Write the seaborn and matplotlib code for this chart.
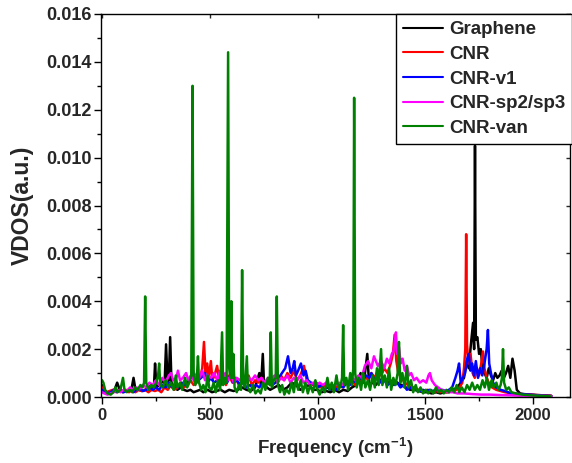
import matplotlib
matplotlib.use("Agg")
import matplotlib.pyplot as plt
from matplotlib.ticker import MultipleLocator
import seaborn as sns
import pandas as pd

# Values in units of 1e-4 (a.u.): (frequency cm^-1, VDOS)
graphene = [(0, 5), (8, 3), (18, 2), (30, 1.5), (45, 2), (58, 3), (70, 6), (82, 3), (95, 2),
            (110, 2.5), (125, 3), (138, 4), (146, 8), (155, 3), (170, 3), (185, 2.5), (200, 3),
            (215, 4), (230, 5), (240, 3), (246, 14), (252, 4), (265, 5), (280, 7), (290, 5),
            (297, 22), (304, 6), (310, 7), (316, 25), (322, 6), (335, 4), (350, 3), (365, 4),
            (380, 3), (395, 2.5), (410, 3), (425, 2), (440, 2.5), (455, 3), (470, 2), (490, 3),
            (510, 2), (530, 2.5), (550, 3), (570, 2), (590, 3), (610, 2.5), (630, 3), (650, 4),
            (670, 3), (690, 2.5), (710, 4), (730, 10), (738, 5), (746, 18), (752, 5), (765, 4),
            (780, 3), (800, 4), (820, 5), (840, 3), (860, 4), (880, 6), (900, 5), (920, 3),
            (940, 4), (960, 5), (980, 3), (1000, 3), (1020, 2), (1040, 2.5), (1060, 2), (1080, 3),
            (1100, 2), (1120, 3), (1140, 2.5), (1160, 4), (1180, 5), (1200, 10), (1215, 6),
            (1231, 18), (1240, 5), (1255, 6), (1270, 5), (1290, 7), (1310, 8), (1330, 6),
            (1350, 7), (1370, 6), (1390, 5), (1410, 4), (1430, 3), (1450, 3), (1470, 2.5),
            (1490, 2), (1510, 2), (1530, 1.5), (1550, 2), (1570, 1.5), (1590, 2), (1610, 2),
            (1630, 3), (1650, 4), (1665, 6), (1680, 8), (1692, 15), (1702, 12), (1712, 22),
            (1722, 31), (1727, 20), (1731, 105), (1735, 24), (1742, 25), (1750, 18), (1758, 20),
            (1766, 12), (1775, 10), (1785, 8), (1795, 12), (1805, 9), (1815, 7), (1825, 10),
            (1835, 8), (1845, 9), (1855, 11), (1865, 8), (1875, 10), (1885, 13), (1895, 8),
            (1905, 16), (1915, 11), (1925, 3), (1940, 1.5), (1960, 1.2), (1990, 1), (2020, 0.8),
            (2050, 0.7), (2085, 0.5)]

cnr = [(0, 4), (10, 3), (20, 2), (35, 2.5), (50, 3), (65, 2), (80, 3), (95, 2.5), (110, 3),
       (125, 2), (140, 3), (155, 2), (170, 3), (185, 2.5), (200, 3), (215, 2), (230, 3),
       (245, 2.5), (260, 3), (275, 2), (290, 4), (305, 3), (320, 5), (335, 3), (350, 4),
       (365, 6), (380, 4), (395, 5), (410, 7), (425, 5), (440, 6), (455, 8), (465, 12),
       (473, 23), (480, 10), (488, 14), (495, 8), (505, 15), (512, 7), (522, 9), (534, 13),
       (545, 6), (560, 8), (575, 5), (590, 9), (605, 6), (620, 8), (635, 5), (650, 7), (665, 6),
       (680, 9), (695, 5), (710, 7), (725, 6), (740, 8), (755, 5), (770, 7), (785, 6), (800, 8),
       (815, 6), (830, 9), (845, 7), (860, 10), (875, 8), (890, 11), (905, 7), (920, 9),
       (937, 13), (950, 7), (965, 6), (980, 5), (995, 6), (1010, 4), (1025, 5), (1040, 4),
       (1055, 5), (1070, 3), (1085, 4), (1100, 5), (1115, 4), (1130, 6), (1145, 5), (1160, 7),
       (1175, 5), (1190, 8), (1205, 6), (1220, 9), (1235, 7), (1250, 10), (1265, 8), (1280, 11),
       (1295, 9), (1310, 12), (1325, 10), (1340, 14), (1350, 18), (1358, 26), (1366, 15),
       (1375, 10), (1390, 8), (1405, 6), (1420, 5), (1435, 4), (1450, 4), (1465, 3), (1480, 3),
       (1495, 2.5), (1510, 3), (1525, 2.5), (1540, 2), (1555, 2.5), (1570, 2), (1585, 2.5),
       (1600, 2), (1615, 3), (1630, 2.5), (1645, 3), (1660, 4), (1672, 6), (1680, 12),
       (1686, 20), (1690, 68), (1694, 22), (1700, 14), (1710, 18), (1720, 10), (1730, 8),
       (1740, 12), (1750, 9), (1760, 14), (1768, 19), (1775, 12), (1785, 8), (1795, 6),
       (1810, 4), (1830, 3), (1850, 2.5), (1870, 2), (1900, 1.5), (1940, 1.2), (1980, 1),
       (2020, 0.8), (2085, 0.5)]

cnr_v1 = [(0, 3), (10, 2), (25, 1.5), (40, 2), (55, 3), (70, 2), (85, 3), (100, 2), (115, 2.5),
          (130, 3), (145, 2), (160, 3), (175, 3.5), (190, 2.5), (205, 3), (220, 4), (235, 3),
          (250, 4), (265, 3), (280, 5), (295, 4), (310, 6), (325, 4), (340, 5), (355, 4),
          (370, 6), (385, 5), (400, 7), (412, 8), (422, 11), (432, 6), (445, 7), (460, 8),
          (478, 10), (490, 6), (505, 8), (520, 6), (535, 7), (550, 5), (565, 8), (580, 6),
          (595, 9), (610, 6), (625, 7), (640, 5), (655, 6), (670, 4), (685, 5), (700, 4),
          (715, 5), (730, 4), (745, 6), (760, 5), (775, 7), (790, 5), (805, 6), (820, 8),
          (835, 10), (850, 12), (863, 17), (875, 10), (885, 12), (892, 15), (900, 9), (910, 11),
          (923, 14), (935, 9), (945, 11), (955, 7), (970, 6), (985, 5), (1000, 4), (1015, 5),
          (1030, 3), (1045, 4), (1060, 3), (1075, 4), (1090, 3), (1105, 5), (1120, 4),
          (1135, 6), (1150, 5), (1165, 7), (1180, 6), (1195, 8), (1210, 7), (1225, 9),
          (1240, 8), (1250, 10), (1265, 7), (1280, 8), (1295, 6), (1310, 7), (1325, 5),
          (1340, 6), (1355, 5), (1370, 6), (1385, 4), (1400, 5), (1415, 3), (1430, 4),
          (1445, 3), (1460, 3), (1475, 2.5), (1490, 3), (1505, 2.5), (1520, 3), (1535, 2.5),
          (1550, 3), (1565, 2.5), (1580, 3), (1595, 2.5), (1610, 3), (1625, 4), (1640, 8),
          (1650, 11), (1657, 14), (1665, 6), (1675, 8), (1685, 10), (1695, 16), (1702, 18),
          (1710, 11), (1718, 14), (1726, 9), (1735, 15), (1745, 8), (1755, 12), (1765, 9),
          (1775, 14), (1785, 20), (1791, 28), (1797, 14), (1805, 10), (1815, 6), (1830, 4),
          (1850, 3), (1870, 2.5), (1900, 1.5), (1940, 1.2), (1980, 1), (2020, 0.7), (2085, 0.4)]

cnr_sp2sp3 = [(0, 2), (10, 1.5), (25, 1), (40, 1.5), (55, 2), (70, 3), (85, 2), (100, 3),
              (115, 2.5), (130, 4), (145, 3), (160, 4), (175, 3.5), (190, 5), (205, 4), (220, 6),
              (235, 5), (250, 7), (265, 5), (280, 8), (295, 6), (310, 9), (320, 10), (330, 7),
              (345, 8), (352, 11), (362, 7), (375, 8), (390, 10), (400, 7), (412, 9), (425, 7),
              (440, 10), (452, 8), (465, 11), (478, 7), (490, 9), (505, 8), (520, 10), (535, 7),
              (548, 11), (560, 8), (572, 10), (585, 7), (598, 9), (612, 6), (625, 8), (640, 7),
              (655, 9), (668, 6), (680, 8), (695, 7), (710, 9), (725, 7), (740, 8), (755, 6),
              (770, 8), (785, 7), (800, 9), (815, 6), (830, 8), (845, 7), (860, 9), (875, 6),
              (890, 8), (905, 7), (920, 9), (935, 6), (950, 7), (965, 5), (980, 6), (995, 5),
              (1010, 6), (1025, 5), (1040, 6), (1055, 4), (1070, 5), (1085, 5), (1100, 6),
              (1115, 5), (1130, 7), (1145, 6), (1160, 8), (1175, 7), (1190, 9), (1205, 8),
              (1220, 13), (1235, 15), (1250, 12), (1262, 17), (1280, 13), (1295, 15), (1310, 12),
              (1322, 16), (1333, 14), (1345, 18), (1352, 19), (1358, 22), (1364, 27), (1370, 18),
              (1378, 21), (1386, 14), (1395, 16), (1405, 11), (1415, 13), (1425, 9), (1435, 10),
              (1448, 7), (1460, 8), (1475, 6), (1490, 7), (1505, 6), (1515, 9), (1522, 10),
              (1530, 7), (1545, 5), (1560, 4), (1575, 3), (1590, 2.5), (1610, 2), (1630, 2),
              (1650, 1.5), (1680, 1.5), (1720, 1.2), (1760, 1), (1800, 1), (1850, 0.8),
              (1900, 0.7), (1950, 0.5), (2000, 0.5), (2085, 0.3)]

cnr_van = [(0, 7), (6, 6), (14, 3), (25, 1.5), (40, 1), (52, 2), (62, 4), (72, 2), (85, 3),
           (97, 8), (104, 3), (115, 2), (128, 3), (140, 2), (152, 4), (165, 3), (178, 5),
           (188, 4), (195, 6), (200, 42), (205, 6), (215, 3), (228, 5), (240, 4), (252, 6),
           (260, 9), (265, 14), (270, 5), (282, 4), (295, 7), (308, 4), (320, 6), (332, 3),
           (342, 9), (350, 4), (362, 6), (372, 3), (385, 8), (395, 4), (405, 6), (414, 9),
           (420, 130), (425, 9), (433, 5), (440, 8), (445, 17), (450, 6), (460, 3), (470, 5),
           (480, 2), (490, 9), (497, 4), (508, 3), (518, 6), (528, 2), (538, 7), (548, 3),
           (557, 27), (562, 5), (570, 8), (578, 6), (585, 144), (590, 12), (595, 8), (600, 40),
           (604, 8), (609, 18), (615, 4), (625, 2), (635, 5), (645, 3), (650, 53), (655, 6),
           (663, 4), (672, 17), (677, 4), (688, 2), (700, 5), (712, 1.5), (724, 3), (736, 1.5),
           (748, 6), (758, 3), (770, 8), (778, 5), (783, 27), (788, 4), (797, 7), (806, 8),
           (811, 42), (816, 5), (826, 2), (836, 5), (846, 1), (856, 3), (868, 1.5), (880, 6),
           (890, 2), (900, 8), (910, 3), (922, 7), (932, 2), (944, 6), (955, 1.5), (966, 5),
           (978, 2), (990, 7), (1000, 3), (1010, 1), (1022, 4), (1034, 2), (1046, 8), (1056, 3),
           (1066, 6), (1076, 2), (1088, 9), (1098, 3), (1108, 5), (1114, 8), (1119, 30),
           (1124, 5), (1134, 8), (1142, 3), (1152, 10), (1160, 5), (1166, 12), (1170, 125),
           (1175, 10), (1182, 4), (1192, 8), (1202, 3), (1212, 10), (1222, 4), (1234, 7),
           (1244, 3), (1256, 9), (1266, 4), (1276, 12), (1284, 5), (1295, 20), (1301, 5),
           (1312, 9), (1322, 4), (1332, 12), (1342, 3), (1352, 8), (1362, 5), (1372, 10),
           (1378, 23), (1384, 6), (1394, 10), (1404, 4), (1415, 13), (1422, 4), (1434, 7),
           (1444, 2), (1456, 5), (1466, 2), (1478, 4), (1490, 1.5), (1502, 3), (1514, 1.5),
           (1526, 3), (1538, 1.5), (1550, 4), (1562, 2), (1574, 3), (1586, 1.5), (1598, 3),
           (1610, 2), (1622, 4), (1634, 2), (1646, 5), (1658, 2), (1670, 4), (1682, 2),
           (1694, 5), (1706, 3), (1718, 6), (1730, 3), (1742, 5), (1754, 3), (1766, 7),
           (1776, 4), (1786, 8), (1796, 3), (1808, 7), (1818, 4), (1830, 6), (1840, 3),
           (1850, 5), (1856, 8), (1861, 20), (1866, 6), (1876, 3), (1888, 4), (1900, 2),
           (1920, 1.5), (1950, 1), (1990, 0.7), (2030, 0.5), (2080, 0.3)]

series_names = ["Graphene", "CNR", "CNR-v1", "CNR-sp2/sp3", "CNR-van"]
series_data = [graphene, cnr, cnr_v1, cnr_sp2sp3, cnr_van]
series_colors = ["#000000", "#ff0000", "#0000ff", "#ff00ff", "#008000"]
UNIT = 1e-4

x_ticks = [0, 500, 1000, 1500, 2000]
y_ticks = [0.000, 0.002, 0.004, 0.006, 0.008, 0.010, 0.012, 0.014, 0.016]

rows = []
for name, pts in zip(series_names, series_data):
    for i, (f, v) in enumerate(pts):
        rows.append({"Frequency": f, "VDOS": v * UNIT, "Series": name, "order": i})
df = pd.DataFrame(rows)

sns.set_style("ticks")
plt.rcParams["font.family"] = ["Liberation Sans", "DejaVu Sans"]
plt.rcParams["font.weight"] = "bold"
plt.rcParams["mathtext.fontset"] = "custom"
plt.rcParams["mathtext.bf"] = "Liberation Sans:bold"
plt.rcParams["mathtext.rm"] = "Liberation Sans:bold"

fig = plt.figure(figsize=(5.72, 4.63), dpi=100)
ax = fig.add_axes([101 / 572, 66 / 463, 469 / 572, 383 / 463])

sns.lineplot(data=df, x="Frequency", y="VDOS", hue="Series", hue_order=series_names,
             palette=dict(zip(series_names, series_colors)), estimator=None, sort=False,
             units="Series", linewidth=1.8, ax=ax, legend=True)

ax.set_xlim(-5, 2172)
ax.set_ylim(0, 0.016)
ax.set_xticks(x_ticks)
ax.set_yticks(y_ticks)
ax.set_xticklabels([str(t) for t in x_ticks], fontsize=12, fontweight="bold")
ax.set_yticklabels([f"{t:.3f}" for t in y_ticks], fontsize=13, fontweight="bold")
ax.xaxis.set_minor_locator(MultipleLocator(250))
ax.yaxis.set_minor_locator(MultipleLocator(0.001))
ax.tick_params(which="major", direction="out", length=5, width=1, color="black")
ax.tick_params(axis="y", which="major", pad=1.5)
ax.tick_params(axis="x", which="major", pad=3)
ax.tick_params(which="minor", direction="out", length=3, width=1, color="black")
for s in ax.spines.values():
    s.set_visible(True)
    s.set_linewidth(1.0)
    s.set_color("black")

sec_y = ax.secondary_yaxis("right")
sec_y.set_yticks(y_ticks)
sec_y.tick_params(direction="in", length=3, width=1, labelright=False)
sec_y.spines["right"].set_visible(False)
sec_x = ax.secondary_xaxis("top")
sec_x.set_xticks(x_ticks)
sec_x.tick_params(direction="in", length=3, width=1, labeltop=False)
sec_x.spines["top"].set_visible(False)

ax.set_xlabel("Frequency (cm$^{\\mathbf{-1}}$)", fontsize=13.5, fontweight="bold", labelpad=9)
ax.set_ylabel("VDOS(a.u.)", fontsize=16.5, fontweight="bold", labelpad=9)

handles, labels = ax.get_legend_handles_labels()
leg = ax.legend(handles, labels, loc="upper left", bbox_to_anchor=(396 / 572, 449 / 463),
                bbox_transform=fig.transFigure, borderaxespad=0,
                prop={"weight": "bold", "size": 13.5}, handlelength=2.15, handletextpad=0.3,
                labelspacing=0.4, borderpad=0.38, frameon=True, fancybox=False, framealpha=1)
leg.get_frame().set_edgecolor("black")
leg.get_frame().set_linewidth(1.0)
for line in leg.get_lines():
    line.set_linewidth(1.5)

fig.savefig("out.png", dpi=100)
